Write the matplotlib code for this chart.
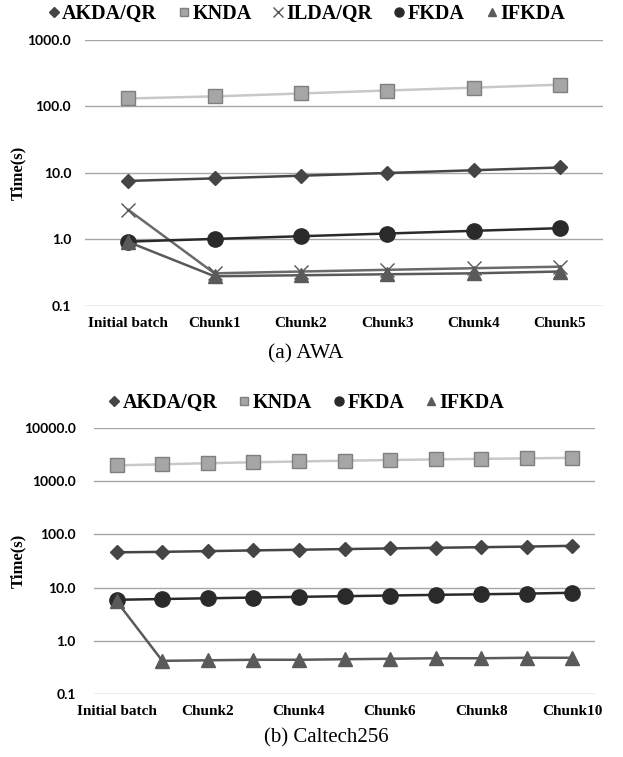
import matplotlib.pyplot as plt
from matplotlib.lines import Line2D
import numpy as np

# (a) AWA
awa_cats = ["Initial batch", "Chunk1", "Chunk2", "Chunk3", "Chunk4", "Chunk5"]
awa_akda = [7.6, 8.3, 9.1, 10.0, 11.0, 12.1]
awa_knda = [132, 142, 157, 174, 192, 213]
awa_ilda = [2.8, 0.31, 0.33, 0.35, 0.37, 0.39]
awa_fkda = [0.93, 1.02, 1.12, 1.23, 1.35, 1.48]
awa_ifkda = [0.92, 0.28, 0.29, 0.30, 0.31, 0.33]

# (b) Caltech256
cal_cats = ["Initial batch"] + ["Chunk%d" % i for i in range(1, 11)]
cal_akda = [46, 47, 48.5, 50, 51.5, 53, 54.5, 56, 57.5, 59, 61]
cal_knda = [1980, 2080, 2180, 2270, 2350, 2430, 2500, 2570, 2630, 2690, 2750]
cal_fkda = [5.9, 6.1, 6.3, 6.5, 6.7, 6.9, 7.1, 7.3, 7.5, 7.7, 8.0]
cal_ifkda = [5.5, 0.42, 0.43, 0.44, 0.44, 0.45, 0.46, 0.47, 0.47, 0.48, 0.48]

styles = {
    "AKDA/QR": dict(color="#454545", marker="D", ms=7.5, mec="#454545"),
    "KNDA": dict(color="#c8c8c8", marker="s", ms=10, mfc="#a6a6a6", mec="#7f7f7f"),
    "ILDA/QR": dict(color="#6a6a6a", marker="x", ms=10, mec="#555555"),
    "FKDA": dict(color="#2a2a2a", marker="o", ms=11, mec="#2a2a2a"),
    "IFKDA": dict(color="#5a5a5a", marker="^", ms=10, mec="#5a5a5a"),
}
legend_ms = {"AKDA/QR": 5.0, "KNDA": 6.0, "ILDA/QR": 6.5, "FKDA": 6.5, "IFKDA": 6.0}

serif = "Liberation Serif"
sans = "Lato"

fig = plt.figure(figsize=(6.23, 7.57), dpi=100)


def draw(ax, cats, series, ymin, ymax, tick_step, legend_y, pad):
    x = np.arange(len(cats))
    for name, vals in series:
        ax.plot(x, vals, lw=1.8, label=name, **styles[name])
    ax.set_yscale("log")
    ax.set_ylim(ymin, ymax)
    ax.set_xlim(-0.5, len(cats) - 0.5)
    decades = [10.0 ** k for k in range(int(np.log10(ymin)), int(np.log10(ymax)) + 1)]
    ax.set_yticks(decades)
    ax.set_yticklabels(["%.1f" % d for d in decades], fontfamily=sans,
                       fontweight="bold", fontsize=10)
    ax.minorticks_off()
    ax.set_xticks(x[::tick_step])
    ax.set_xticklabels(cats[::tick_step], fontfamily=serif, fontweight="bold",
                       fontsize=11)
    ax.tick_params(length=0)
    ax.tick_params(axis="y", pad=pad)
    ax.tick_params(axis="x", pad=8)
    ax.grid(axis="y", color="#a6a6a6", lw=1)
    ax.set_axisbelow(True)
    for s in ax.spines.values():
        s.set_visible(False)
    pos = ax.get_position()
    fig.text(18 / 623, pos.y0 + pos.height * 0.5, "Time(s)", rotation=90,
             ha="center", va="center", fontfamily=serif, fontweight="bold",
             fontsize=12)
    handles = []
    for name, _ in series:
        st = dict(styles[name])
        st["ms"] = legend_ms[name]
        handles.append(Line2D([], [], lw=0, label=name, **st))
    fig.legend(handles=handles, loc="center",
               bbox_to_anchor=(307 / 623, legend_y), ncol=len(series),
               frameon=False, handlelength=0.45, handletextpad=0.2,
               columnspacing=1.1, borderpad=0,
               prop=dict(family=serif, weight="bold", size=14.5))


ax1 = fig.add_axes([85 / 623, 1 - 306 / 757, 518 / 623, 266 / 757])
draw(ax1, awa_cats,
     [("AKDA/QR", awa_akda), ("KNDA", awa_knda), ("ILDA/QR", awa_ilda),
      ("FKDA", awa_fkda), ("IFKDA", awa_ifkda)],
     0.1, 1000, 1, 1 - 14 / 757, 10)
fig.text(306 / 623, 1 - 354 / 757, "(a) AWA", ha="center", va="center",
         fontfamily=serif, fontsize=15.5)

ax2 = fig.add_axes([94 / 623, 1 - 694 / 757, 501 / 623, 266 / 757])
draw(ax2, cal_cats,
     [("AKDA/QR", cal_akda), ("KNDA", cal_knda), ("FKDA", cal_fkda),
      ("IFKDA", cal_ifkda)],
     0.1, 10000, 2, 1 - 403 / 757, 13)
fig.text(326 / 623, 1 - 738 / 757, "(b) Caltech256", ha="center", va="center",
         fontfamily=serif, fontsize=15)

plt.savefig("out.png", dpi=100)
